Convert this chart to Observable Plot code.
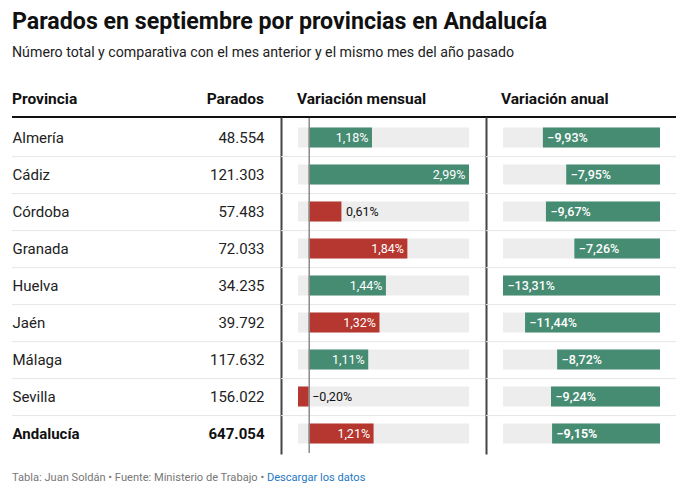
<!DOCTYPE html>
<html lang="es">
<head>
<meta charset="utf-8">
<script src="https://cdn.jsdelivr.net/npm/d3@7"></script>
<script src="https://cdn.jsdelivr.net/npm/@observablehq/plot@0.6"></script>
<style>
  body { margin: 0; background: #fff; font-family: Roboto, "Noto Sans", sans-serif; }
  #wrap { position: relative; width: 689px; height: 497px; overflow: hidden; }
  #title { position: absolute; left: 12px; top: 6px; font: bold 23.2px/30px Roboto; color: #111; white-space: nowrap; }
  #subtitle { position: absolute; left: 12px; top: 42px; font: 14.2px/20px Roboto; color: #222; white-space: nowrap; }
  #header { position: absolute; left: 12px; top: 86px; width: 664px; height: 30px; border-bottom: 2px solid #111; font: bold 15.5px/26px Roboto; color: #111; }
  #header span { position: absolute; top: 0; white-space: nowrap; }
  #table { position: absolute; left: 12px; top: 118px; width: 664px; height: 335px; }
  #table > div { position: absolute; top: 0; }
  #footer { position: absolute; left: 12px; top: 470px; font: 11.1px/16px Roboto; color: #777; white-space: nowrap; }
  #footer a { color: #1f78c6; text-decoration: none; }
</style>
</head>
<body>
<div id="wrap">
  <div id="title">Parados en septiembre por provincias en Andalucía</div>
  <div id="subtitle">Número total y comparativa con el mes anterior y el mismo mes del año pasado</div>
  <div id="header">
    <span style="left:0">Provincia</span>
    <span style="right:412px">Parados</span>
    <span style="left:285px">Variación mensual</span>
    <span style="left:489px">Variación anual</span>
  </div>
  <div id="table">
    <div id="colA" style="left:0"></div>
    <div id="colB" style="left:269px"></div>
    <div id="colC" style="left:474px"></div>
  </div>
  <div id="footer">Tabla: Juan Soldán • Fuente: Ministerio de Trabajo • <a href="#">Descargar los datos</a></div>
</div>
<script>
// ---- Datos ----
const provincias = ["Almería", "Cádiz", "Córdoba", "Granada", "Huelva", "Jaén", "Málaga", "Sevilla", "Andalucía"];
const parados = [48554, 121303, 57483, 72033, 34235, 39792, 117632, 156022, 647054];
const variacionMensual = [1.18, 2.99, 0.61, 1.84, 1.44, 1.32, 1.11, -0.20, 1.21];
const variacionAnual = [-9.93, -7.95, -9.67, -7.26, -13.31, -11.44, -8.72, -9.24, -9.15];
const valoracionMensual = ["favorable", "favorable", "desfavorable", "desfavorable", "favorable", "desfavorable", "favorable", "desfavorable", "desfavorable"];
const filaTotal = "Andalucía";

// ---- Formato ----
const loc = d3.formatLocale({decimal: ",", thousands: ".", grouping: [3], currency: ["", " €"], minus: "\u2212"});
const fmtInt = loc.format(",d");
const fmtDec = loc.format(".2f");
const fmtPct = v => fmtDec(v) + "%";

const filas = provincias.map((p, i) => ({
  provincia: p,
  parados: parados[i],
  mensual: variacionMensual[i],
  anual: variacionAnual[i],
  valoracion: valoracionMensual[i],
  total: p === filaTotal
}));

const verde = "#468c73", rojo = "#b5372f", gris = "#ededed", sep = "#e6e6e6", oscuro = "#444";
const H = 335;
const paso = H / provincias.length;
const inset = 8.5;
const estilo = {fontFamily: "Roboto", overflow: "visible", color: "#222", background: "transparent"};
const yScale = {type: "band", domain: provincias, padding: 0, axis: null};
const separadores = filas.slice(0, -1);

// Columna A: Provincia y Parados
const A = Plot.plot({
  width: 269, height: H, margin: 0,
  y: yScale, style: estilo,
  marks: [
    Plot.ruleY(separadores, {y: "provincia", dy: paso / 2, stroke: sep}),
    Plot.text(filas.filter(d => !d.total), {y: "provincia", text: "provincia", frameAnchor: "left", textAnchor: "start", fontSize: 15, fill: "#222"}),
    Plot.text(filas.filter(d => d.total), {y: "provincia", text: "provincia", frameAnchor: "left", textAnchor: "start", fontSize: 15, fontWeight: "bold", fill: "#111"}),
    Plot.text(filas.filter(d => !d.total), {y: "provincia", text: d => fmtInt(d.parados), frameAnchor: "right", textAnchor: "end", dx: -17, fontSize: 15, fill: "#222"}),
    Plot.text(filas.filter(d => d.total), {y: "provincia", text: d => fmtInt(d.parados), frameAnchor: "right", textAnchor: "end", dx: -17, fontSize: 15, fontWeight: "bold", fill: "#111"}),
    Plot.frame({anchor: "right", stroke: oscuro, strokeWidth: 2})
  ]
});
document.getElementById("colA").append(A);

// Columna B: Variación mensual
const minM = d3.min(variacionMensual), maxM = d3.max(variacionMensual);
const umbral = 0.7;
const B = Plot.plot({
  width: 205, height: H, marginTop: 0, marginBottom: 0, marginLeft: 17, marginRight: 17,
  y: yScale, x: {domain: [minM, maxM], axis: null},
  color: {domain: ["favorable", "desfavorable"], range: [verde, rojo]},
  style: estilo,
  marks: [
    Plot.ruleY(separadores, {y: "provincia", dy: paso / 2, stroke: sep, insetLeft: -17, insetRight: -17}),
    Plot.barX(filas, {x1: () => minM, x2: () => maxM, y: "provincia", fill: gris, insetTop: inset, insetBottom: inset}),
    Plot.barX(filas, {x: "mensual", y: "provincia", fill: "valoracion", insetTop: inset, insetBottom: inset}),
    Plot.ruleX([0], {stroke: "#8a8a8a", strokeWidth: 1.5}),
    Plot.text(filas.filter(d => Math.abs(d.mensual) >= umbral), {x: "mensual", y: "provincia", text: d => fmtPct(d.mensual), textAnchor: "end", dx: -4, fill: "white", fontSize: 12.5, fontWeight: d => d.total ? "bold" : "500"}),
    Plot.text(filas.filter(d => d.mensual >= 0 && d.mensual < umbral), {x: "mensual", y: "provincia", text: d => fmtPct(d.mensual), textAnchor: "start", dx: 4, fill: "#111", fontSize: 12.5}),
    Plot.text(filas.filter(d => d.mensual < 0 && -d.mensual < umbral), {x: () => 0, y: "provincia", text: d => fmtPct(d.mensual), textAnchor: "start", dx: 3, fill: "#111", fontSize: 12.5}),
    Plot.frame({anchor: "right", stroke: oscuro, strokeWidth: 2, insetRight: -17})
  ]
});
document.getElementById("colB").append(B);

// Columna C: Variación anual
const minA = d3.min(variacionAnual);
const C = Plot.plot({
  width: 190, height: H, marginTop: 0, marginBottom: 0, marginLeft: 17, marginRight: 16,
  y: yScale, x: {domain: [minA, 0], axis: null},
  style: estilo,
  marks: [
    Plot.ruleY(separadores, {y: "provincia", dy: paso / 2, stroke: sep, insetLeft: -17, insetRight: -16}),
    Plot.barX(filas, {x1: () => minA, x2: () => 0, y: "provincia", fill: gris, insetTop: inset, insetBottom: inset}),
    Plot.barX(filas, {x: "anual", y: "provincia", fill: verde, insetTop: inset, insetBottom: inset}),
    Plot.text(filas.filter(d => !d.total), {x: "anual", y: "provincia", text: d => fmtPct(d.anual), textAnchor: "start", dx: 4, fill: "white", fontSize: 12.5, fontWeight: "500"}),
    Plot.text(filas.filter(d => d.total), {x: "anual", y: "provincia", text: d => fmtPct(d.anual), textAnchor: "start", dx: 4, fill: "white", fontSize: 12.5, fontWeight: "bold"})
  ]
});
document.getElementById("colC").append(C);
</script>
</body>
</html>
